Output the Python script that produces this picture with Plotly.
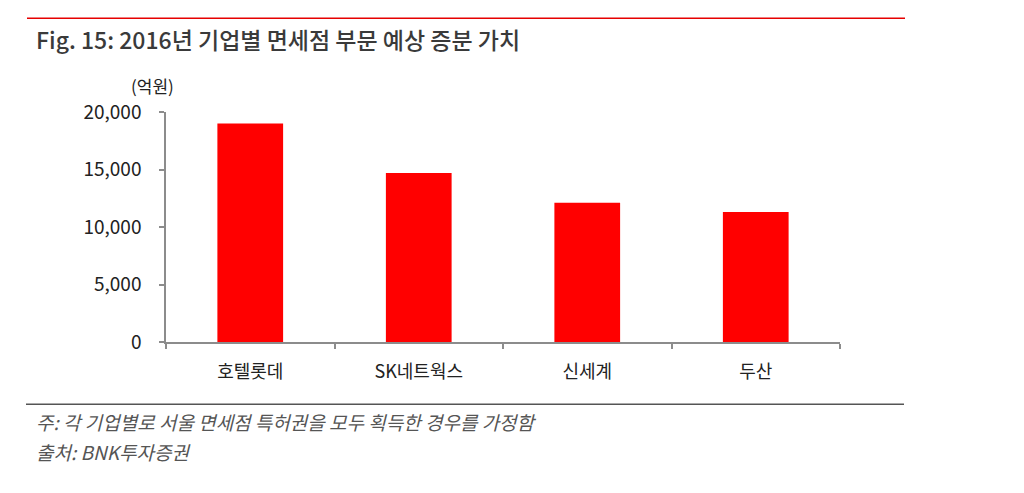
import plotly.graph_objects as go

categories = ["호텔롯데", "SK네트웍스", "신세계", "두산"]
values = [19000, 14700, 12100, 11300]
y_ticks = [0, 5000, 10000, 15000, 20000]
y_tick_labels = ["0", "5,000", "10,000", "15,000", "20,000"]

title_text = "Fig. 15: 2016년 기업별 면세점 부문 예상 증분 가치"
unit_text = "(억원)"
note_text = "주: 각 기업별로 서울 면세점 특허권을 모두 획득한 경우를 가정함"
source_text = "출처: BNK투자증권"

W, H = 1024, 493
OFF = 8  # default page body margin
L, R, T, B = 166, 840, 112, 342.5
pw, ph = R - L, B - T

def px(x):
    return (x - L) / pw

def py(y):
    return (B - y) / ph

FONT = "Noto Sans CJK KR"

fig = go.Figure(go.Bar(
    x=categories, y=values,
    marker=dict(color="#ff0000", line=dict(width=0)),
    width=0.39,
))

fig.update_layout(
    width=W - OFF, height=H - OFF,
    margin=dict(l=L - OFF, r=W - R, t=T - OFF, b=H - B, pad=0),
    paper_bgcolor="white", plot_bgcolor="white",
    showlegend=False,
    font=dict(family=FONT, color="#222222"),
    xaxis=dict(
        type="category",
        showline=True, linecolor="#8c8c8c", linewidth=1.5,
        ticks="outside", tickson="boundaries", ticklen=5, tickcolor="#8c8c8c", tickwidth=1.5,
        tickfont=dict(family=FONT, size=18, color="#222222"),
        ticklabelstandoff=13,
        showgrid=False, zeroline=False, fixedrange=True,
    ),
    yaxis=dict(
        range=[0, 20000],
        tickvals=y_ticks, ticktext=y_tick_labels,
        showline=True, linecolor="#8c8c8c", linewidth=1.5,
        ticks="outside", ticklen=5, tickcolor="#8c8c8c", tickwidth=1.5,
        tickfont=dict(family=FONT, size=19, color="#222222"),
        ticklabelstandoff=14,
        showgrid=False, zeroline=False, fixedrange=True,
    ),
    shapes=[
        dict(type="line", xref="paper", yref="paper",
             x0=px(27), x1=px(905), y0=py(18), y1=py(18),
             line=dict(color="#e60000", width=1.5)),
        dict(type="line", xref="paper", yref="paper",
             x0=px(26), x1=px(904), y0=py(405), y1=py(405),
             line=dict(color="#555555", width=1.5)),
    ],
    annotations=[
        dict(text=title_text, xref="paper", yref="paper",
             x=px(34), y=py(39), xanchor="left", yanchor="middle", showarrow=False,
             font=dict(family=FONT, size=23, color="#3a3a3a", weight=500)),
        dict(text=unit_text, xref="paper", yref="paper",
             x=px(176), y=py(85), xanchor="right", yanchor="middle", showarrow=False,
             font=dict(family=FONT, size=17, color="#222222")),
        dict(text="<i>" + note_text + "</i>", xref="paper", yref="paper",
             x=px(34), y=py(422), xanchor="left", yanchor="middle", showarrow=False,
             font=dict(family=FONT, size=19, color="#555555")),
        dict(text="<i>" + source_text + "</i>", xref="paper", yref="paper",
             x=px(34), y=py(452), xanchor="left", yanchor="middle", showarrow=False,
             font=dict(family=FONT, size=19, color="#555555")),
    ],
)

fig.write_html("out.html", config={"displayModeBar": False})
